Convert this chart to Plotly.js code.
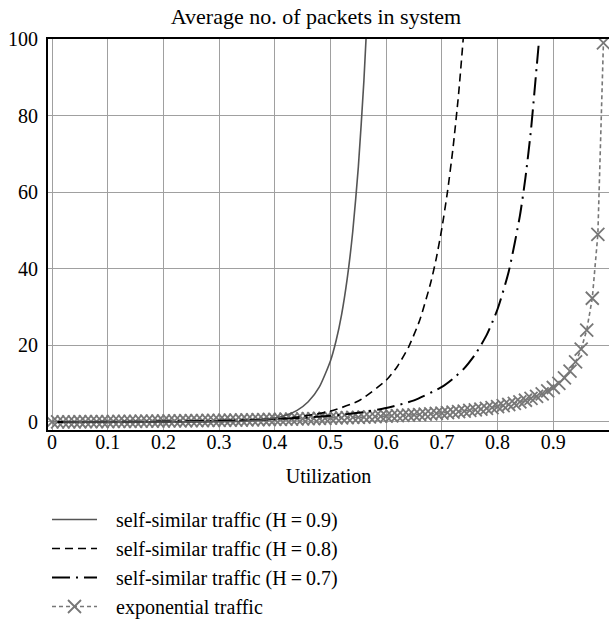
<!DOCTYPE html>
<html>
<head>
<meta charset="utf-8">
<script src="https://cdn.plot.ly/plotly-3.0.1.min.js"></script>
<style>html,body{margin:0;padding:0;background:#fff;}#chart{width:609px;height:628px;}</style>
</head>
<body>
<div id="chart"></div>
<script>
// H = 0.9 self-similar traffic
const xH09 = [0.02, 0.05, 0.1, 0.15, 0.2, 0.25, 0.3, 0.35, 0.38, 0.4, 0.42, 0.44, 0.46, 0.48, 0.5, 0.51, 0.52, 0.53, 0.54, 0.55, 0.56, 0.565];
const yH09 = [0, 0, 0, 0.0003, 0.0024, 0.013, 0.06, 0.25, 0.59, 1.02, 1.76, 3.04, 5.28, 9.17, 16.0, 21.2, 28.1, 37.4, 49.8, 66.6, 89.2, 103.5];
// H = 0.8 self-similar traffic
const xH08 = [0.01, 0.1, 0.2, 0.3, 0.4, 0.45, 0.5, 0.55, 0.6, 0.62, 0.64, 0.66, 0.68, 0.69, 0.7, 0.71, 0.72, 0.73, 0.74];
const yH08 = [0, 0.005, 0.044, 0.205, 0.78, 1.48, 2.83, 5.47, 10.9, 14.5, 19.5, 26.5, 36.4, 42.8, 50.6, 60.1, 71.6, 85.7, 103.1];
// H = 0.7 self-similar traffic
const xH07 = [0.01, 0.1, 0.2, 0.3, 0.4, 0.5, 0.55, 0.6, 0.65, 0.7, 0.72, 0.74, 0.76, 0.78, 0.8, 0.82, 0.84, 0.85, 0.86, 0.87, 0.874];
const yH07 = [0.0005, 0.028, 0.115, 0.31, 0.72, 1.59, 2.38, 3.62, 5.65, 9.15, 11.3, 14.0, 17.7, 22.6, 29.5, 39.3, 53.8, 63.8, 76.4, 92.5, 99.0];
// exponential traffic
const xExp = [0, 0.01, 0.02, 0.03, 0.04, 0.05, 0.06, 0.07, 0.08, 0.09,
  0.10, 0.11, 0.12, 0.13, 0.14, 0.15, 0.16, 0.17, 0.18, 0.19,
  0.20, 0.21, 0.22, 0.23, 0.24, 0.25, 0.26, 0.27, 0.28, 0.29,
  0.30, 0.31, 0.32, 0.33, 0.34, 0.35, 0.36, 0.37, 0.38, 0.39,
  0.40, 0.41, 0.42, 0.43, 0.44, 0.45, 0.46, 0.47, 0.48, 0.49,
  0.50, 0.51, 0.52, 0.53, 0.54, 0.55, 0.56, 0.57, 0.58, 0.59,
  0.60, 0.61, 0.62, 0.63, 0.64, 0.65, 0.66, 0.67, 0.68, 0.69,
  0.70, 0.71, 0.72, 0.73, 0.74, 0.75, 0.76, 0.77, 0.78, 0.79,
  0.80, 0.81, 0.82, 0.83, 0.84, 0.85, 0.86, 0.87, 0.88, 0.89,
  0.90, 0.91, 0.92, 0.93, 0.94, 0.95, 0.96, 0.97, 0.98, 0.99];
const yExp = [0, 0.0101, 0.0204, 0.0309, 0.0417, 0.0526, 0.0638, 0.0753, 0.087, 0.0989,
  0.111, 0.124, 0.136, 0.149, 0.163, 0.176, 0.19, 0.205, 0.22, 0.235,
  0.25, 0.266, 0.282, 0.299, 0.316, 0.333, 0.351, 0.37, 0.389, 0.408,
  0.429, 0.449, 0.471, 0.493, 0.515, 0.538, 0.563, 0.587, 0.613, 0.639,
  0.667, 0.695, 0.724, 0.754, 0.786, 0.818, 0.852, 0.887, 0.923, 0.961,
  1.0, 1.04, 1.08, 1.13, 1.17, 1.22, 1.27, 1.33, 1.38, 1.44,
  1.5, 1.56, 1.63, 1.7, 1.78, 1.86, 1.94, 2.03, 2.13, 2.23,
  2.33, 2.45, 2.57, 2.7, 2.85, 3.0, 3.17, 3.35, 3.55, 3.76,
  4.0, 4.26, 4.56, 4.88, 5.25, 5.67, 6.14, 6.69, 7.33, 8.09,
  9.0, 10.1, 11.5, 13.3, 15.7, 19.0, 24.0, 32.3, 49.0, 99.0];

const seriesNames = ['self-similar traffic (H\u2009=\u20090.9)', 'self-similar traffic (H\u2009=\u20090.8)', 'self-similar traffic (H\u2009=\u20090.7)', 'exponential traffic'];
const xTickVals = [0, 0.1, 0.2, 0.3, 0.4, 0.5, 0.6, 0.7, 0.8, 0.9, 1];
const xTickText = ['0', '0.1', '0.2', '0.3', '0.4', '0.5', '0.6', '0.7', '0.8', '0.9', '1'];
const yTickVals = [0, 20, 40, 60, 80, 100];

const serif = 'Liberation Serif, Times New Roman, serif';
const pad = '\u2002\u2009';

const traces = [
  {x: xExp, y: yExp, name: pad + seriesNames[3], mode: 'lines+markers', legendgroup: 'd', legendrank: 4,
   line: {color: '#777', width: 1.6, dash: '4px,3px'},
   marker: {symbol: 'x-thin-open', size: 13, color: '#777', line: {color: '#777', width: 1.8}}},
  {x: xH07, y: yH07, name: pad + seriesNames[2], mode: 'lines', legendgroup: 'c', legendrank: 3,
   line: {color: '#000', width: 2, dash: '18px,6px,2px,6px', shape: 'spline', smoothing: 0.6}},
  {x: xH08, y: yH08, name: pad + seriesNames[1], mode: 'lines', legendgroup: 'b', legendrank: 2,
   line: {color: '#000', width: 1.6, dash: '8px,5px', shape: 'spline', smoothing: 0.6}},
  {x: xH09, y: yH09, name: pad + seriesNames[0], mode: 'lines', legendgroup: 'a', legendrank: 1,
   line: {color: '#555', width: 1.6, shape: 'spline', smoothing: 0.6}}
];

const layout = {
  width: 609, height: 628,
  margin: {l: 48, r: 0, t: 39, b: 198, autoexpand: false},
  paper_bgcolor: '#fff', plot_bgcolor: '#fff',
  font: {family: serif, color: '#000', size: 20},
  title: {text: 'Average no. of packets in system', font: {family: serif, size: 22, color: '#000'},
          x: 316/609, xref: 'container', y: 1 - 16.5/628, yref: 'container', yanchor: 'middle'},
  xaxis: {range: [-0.0072, 1.0], tickvals: xTickVals, ticktext: xTickText,
          showgrid: true, gridcolor: '#a0a0a0', gridwidth: 1, zeroline: false,
          showline: true, linecolor: '#000', linewidth: 2, mirror: true,
          ticks: '', ticklabelstandoff: -7, tickfont: {family: serif, size: 20, color: '#000'},
          title: {text: 'Utilization', font: {family: serif, size: 20, color: '#000'}, standoff: 17}},
  yaxis: {range: [-2.1, 100], tickvals: yTickVals,
          showgrid: true, gridcolor: '#a0a0a0', gridwidth: 1, zeroline: false,
          showline: true, linecolor: '#000', linewidth: 2, mirror: false,
          ticks: '', ticklabelstandoff: 4, tickfont: {family: serif, size: 20, color: '#000'}},
  showlegend: true,
  legend: {x: 47/609, xref: 'container', xanchor: 'left', y: 1 - 500/628, yref: 'container', yanchor: 'top',
           orientation: 'v', traceorder: 'grouped', tracegroupgap: 0, itemwidth: 45,
           font: {family: serif, size: 20, color: '#000'}, bgcolor: 'rgba(0,0,0,0)'}
};

Plotly.newPlot('chart', traces, layout, {displayModeBar: false, staticPlot: true});
</script>
</body>
</html>
